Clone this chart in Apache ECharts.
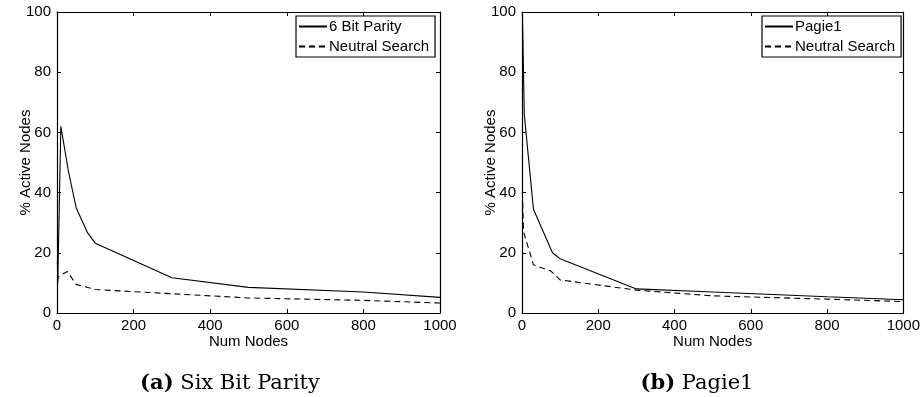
<!DOCTYPE html>
<html>
<head>
<meta charset="utf-8">
<script src="https://cdn.jsdelivr.net/npm/echarts@6/dist/echarts.min.js"></script>
<style>html,body{margin:0;padding:0;background:#fff;}#c{width:923px;height:397px;}</style>
</head>
<body>
<div id="c"></div>
<script>
// ---- data ----
const xTicks = [0, 200, 400, 600, 800, 1000];
const yTicks = [0, 20, 40, 60, 80, 100];

const parityX = [1, 2, 3, 10, 30, 50, 80, 100, 300, 500, 800, 1000];
const parityY = [17, 10, 16, 62, 47, 35, 26.6, 23.2, 11.7, 8.5, 7, 5.2];
const parityNeutralX = [1, 3, 10, 27, 50, 100, 300, 500, 800, 1000];
const parityNeutralY = [10.5, 12, 12.6, 13.8, 9.5, 7.8, 6.4, 5, 4.2, 3.3];

const pagieX = [1, 6, 30, 80, 100, 300, 500, 800, 1000];
const pagieY = [100, 66, 34.5, 20, 18, 8, 7, 5.4, 4.4];
const pagieNeutralX = [1, 4, 30, 75, 100, 300, 500, 800, 1000];
const pagieNeutralY = [40, 27, 16, 14, 11, 7.6, 5.7, 4.6, 3.8];

const leftNames = ['6 Bit Parity', 'Neutral Search'];
const rightNames = ['Pagie1', 'Neutral Search'];
const captionA = ['(a)', 'Six Bit Parity'];
const captionB = ['(b)', 'Pagie1'];

function pairs(xs, ys) { return xs.map((x, i) => [x, ys[i]]); }

const FONT = 'Liberation Sans';
const FS = 15;
const CAPFONT = 'DejaVu Serif';
const CAPFS = 21;

function xAxes(gi) {
  return [
    { gridIndex: gi, type: 'value', min: 0, max: 1000, interval: 200, position: 'bottom',
      name: 'Num Nodes', nameLocation: 'middle', nameGap: 21, nameMoveOverlap: false,
      nameTextStyle: { fontFamily: FONT, fontSize: FS, color: '#000' },
      axisLine: { show: true, onZero: false, lineStyle: { color: '#000', width: 1.2 } },
      axisTick: { show: true, inside: true, length: 4, lineStyle: { color: '#000' } },
      axisLabel: { margin: 5, fontFamily: FONT, fontSize: FS, color: '#000',
        formatter: v => xTicks.includes(v) ? String(v) : '' },
      splitLine: { show: false } },
    { gridIndex: gi, type: 'value', min: 0, max: 1000, interval: 200, position: 'top',
      axisLine: { show: true, onZero: false, lineStyle: { color: '#000', width: 1.2 } },
      axisTick: { show: true, inside: true, length: 4, lineStyle: { color: '#000' } },
      axisLabel: { show: false }, splitLine: { show: false } }
  ];
}
function yAxes(gi) {
  return [
    { gridIndex: gi, type: 'value', min: 0, max: 100, interval: 20, position: 'left',
      name: '% Active Nodes', nameLocation: 'middle', nameGap: 24, nameRotate: 90, nameMoveOverlap: false,
      nameTextStyle: { fontFamily: FONT, fontSize: FS, color: '#000' },
      axisLine: { show: true, onZero: false, lineStyle: { color: '#000', width: 1.2 } },
      axisTick: { show: true, inside: true, length: 4, lineStyle: { color: '#000' } },
      axisLabel: { margin: 6, fontFamily: FONT, fontSize: FS, color: '#000',
        formatter: v => yTicks.includes(v) ? String(v) : '' },
      splitLine: { show: false } },
    { gridIndex: gi, type: 'value', min: 0, max: 100, interval: 20, position: 'right',
      axisLine: { show: true, onZero: false, lineStyle: { color: '#000', width: 1.2 } },
      axisTick: { show: true, inside: true, length: 4, lineStyle: { color: '#000' } },
      axisLabel: { show: false }, splitLine: { show: false } }
  ];
}

function lineSeries(name, data, xi, yi, dashed) {
  return {
    name: name, type: 'line', xAxisIndex: xi, yAxisIndex: yi, data: data,
    symbol: 'none', animation: false, silent: true,
    lineStyle: { color: '#000', width: 1.1, type: dashed ? [6, 4] : 'solid' },
    itemStyle: { color: '#000' }
  };
}

function legend(names, left, idxs) {
  return {
    data: names.map(n => ({ name: n })),
    seriesIndex: idxs,
    orient: 'vertical', left: left, top: 16,
    padding: [3, 6, 3, 2], itemGap: 5, itemWidth: 28, itemHeight: 14,
    itemStyle: { opacity: 0 },
    backgroundColor: '#fff', borderColor: '#000', borderWidth: 1.2, borderRadius: 0,
    textStyle: { fontFamily: FONT, fontSize: FS, color: '#000', padding: [0,0,0,-3] },
    selectedMode: false
  };
}

const chart = echarts.init(document.getElementById('c'), null, { renderer: 'canvas' });
const option = {
  backgroundColor: '#fff',
  animation: false,
  grid: [
    { left: 57, top: 12, width: 383, height: 301 },
    { left: 522, top: 12, width: 383, height: 301 }
  ],
  xAxis: [...xAxes(0), ...xAxes(1)],
  yAxis: [...yAxes(0), ...yAxes(1)],
  legend: [
    legend(leftNames, 296, [0, 1]),
    legend(rightNames, 762, [2, 3])
  ],
  series: [
    lineSeries(leftNames[0], pairs(parityX, parityY), 0, 0, false),
    lineSeries(leftNames[1], pairs(parityNeutralX, parityNeutralY), 0, 0, true),
    lineSeries(rightNames[0], pairs(pagieX, pagieY), 2, 2, false),
    lineSeries(rightNames[1], pairs(pagieNeutralX, pagieNeutralY), 2, 2, true)
  ],
  graphic: [
    { type: 'text', x: 230, y: 384, style: {
      text: '{b|' + captionA[0] + '} ' + captionA[1], align: 'center', verticalAlign: 'middle',
      font: CAPFS + 'px "' + CAPFONT + '"', fill: '#000',
      rich: { b: { fontFamily: CAPFONT, fontWeight: 'bold', fontSize: CAPFS } } } },
    { type: 'text', x: 697, y: 384, style: {
      text: '{b|' + captionB[0] + '} ' + captionB[1], align: 'center', verticalAlign: 'middle',
      font: CAPFS + 'px "' + CAPFONT + '"', fill: '#000',
      rich: { b: { fontFamily: CAPFONT, fontWeight: 'bold', fontSize: CAPFS } } } }
  ]
};
chart.setOption(option);
</script>
</body>
</html>
